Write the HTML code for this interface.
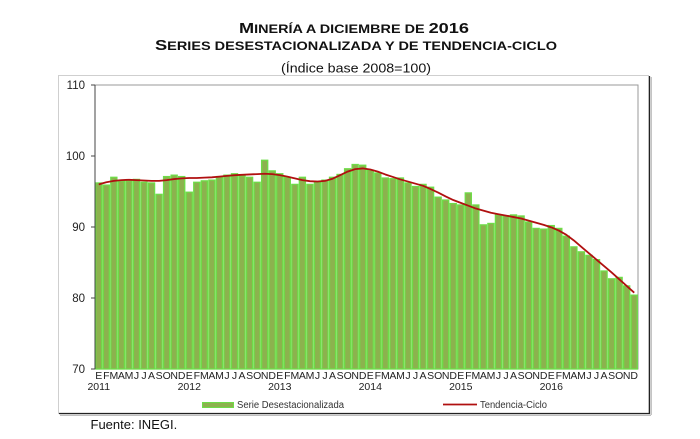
<!DOCTYPE html>
<html><head><meta charset="utf-8"><style>
html,body{margin:0;padding:0;background:#fff;}
svg{display:block;}
text{font-family:"Liberation Sans",Arial,sans-serif;}
</style></head><body>
<svg width="700" height="439" viewBox="0 0 700 439" xmlns="http://www.w3.org/2000/svg">
<rect width="700" height="439" fill="#fff"/>
<!-- titles -->
<text x="239" y="33" font-weight="bold" fill="#111" textLength="230" lengthAdjust="spacingAndGlyphs"><tspan font-size="14.5">M</tspan><tspan font-size="11.5">INERÍA A DICIEMBRE DE </tspan><tspan font-size="14.5">2016</tspan></text>
<text x="155" y="50" font-weight="bold" fill="#111" textLength="402" lengthAdjust="spacingAndGlyphs"><tspan font-size="14.5">S</tspan><tspan font-size="11.5">ERIES DESESTACIONALIZADA Y DE TENDENCIA-CICLO</tspan></text>
<text x="281" y="72.5" font-size="13" fill="#111" textLength="150" lengthAdjust="spacingAndGlyphs">(Índice base 2008=100)</text>
<!-- outer frame -->
<rect x="58.5" y="75.5" width="590" height="338" fill="none" stroke="#cfcfcf" stroke-width="1"/>
<line x1="59" y1="413.5" x2="650" y2="413.5" stroke="#222" stroke-width="1.2"/>
<line x1="649.5" y1="76" x2="649.5" y2="414" stroke="#222" stroke-width="1.2"/>
<line x1="60" y1="415.2" x2="651" y2="415.2" stroke="#aaa" stroke-width="1"/>
<line x1="651.2" y1="77" x2="651.2" y2="415" stroke="#aaa" stroke-width="1"/>
<!-- plot box -->
<rect x="95" y="85" width="543" height="284" fill="#fff" stroke="#999" stroke-width="1"/>
<!-- bars -->
<g fill="#8cb24e" stroke="#6edc48" stroke-width="1.3">
<rect x="95.7" y="182.98" width="6.1" height="186.02"/>
<rect x="103.24" y="185.11" width="6.1" height="183.89"/>
<rect x="110.78" y="177.3" width="6.1" height="191.7"/>
<rect x="118.33" y="180.85" width="6.1" height="188.15"/>
<rect x="125.87" y="180.85" width="6.1" height="188.15"/>
<rect x="133.41" y="179.43" width="6.1" height="189.57"/>
<rect x="140.95" y="182.27" width="6.1" height="186.73"/>
<rect x="148.49" y="182.98" width="6.1" height="186.02"/>
<rect x="156.03" y="194.34" width="6.1" height="174.66"/>
<rect x="163.58" y="176.59" width="6.1" height="192.41"/>
<rect x="171.12" y="175.17" width="6.1" height="193.83"/>
<rect x="178.66" y="176.59" width="6.1" height="192.41"/>
<rect x="186.2" y="192.21" width="6.1" height="176.79"/>
<rect x="193.74" y="182.27" width="6.1" height="186.73"/>
<rect x="201.28" y="180.85" width="6.1" height="188.15"/>
<rect x="208.83" y="180.14" width="6.1" height="188.86"/>
<rect x="216.37" y="176.59" width="6.1" height="192.41"/>
<rect x="223.91" y="175.17" width="6.1" height="193.83"/>
<rect x="231.45" y="173.75" width="6.1" height="195.25"/>
<rect x="238.99" y="175.88" width="6.1" height="193.12"/>
<rect x="246.53" y="177.3" width="6.1" height="191.7"/>
<rect x="254.08" y="182.27" width="6.1" height="186.73"/>
<rect x="261.62" y="160.26" width="6.1" height="208.74"/>
<rect x="269.16" y="170.91" width="6.1" height="198.09"/>
<rect x="276.7" y="173.75" width="6.1" height="195.25"/>
<rect x="284.24" y="177.3" width="6.1" height="191.7"/>
<rect x="291.78" y="184.4" width="6.1" height="184.6"/>
<rect x="299.33" y="177.3" width="6.1" height="191.7"/>
<rect x="306.87" y="184.4" width="6.1" height="184.6"/>
<rect x="314.41" y="182.27" width="6.1" height="186.73"/>
<rect x="321.95" y="180.14" width="6.1" height="188.86"/>
<rect x="329.49" y="177.3" width="6.1" height="191.7"/>
<rect x="337.03" y="174.46" width="6.1" height="194.54"/>
<rect x="344.58" y="168.78" width="6.1" height="200.22"/>
<rect x="352.12" y="164.52" width="6.1" height="204.48"/>
<rect x="359.66" y="165.23" width="6.1" height="203.77"/>
<rect x="367.2" y="170.2" width="6.1" height="198.8"/>
<rect x="374.74" y="173.04" width="6.1" height="195.96"/>
<rect x="382.28" y="178.01" width="6.1" height="190.99"/>
<rect x="389.83" y="178.72" width="6.1" height="190.28"/>
<rect x="397.37" y="178.01" width="6.1" height="190.99"/>
<rect x="404.91" y="182.98" width="6.1" height="186.02"/>
<rect x="412.45" y="186.53" width="6.1" height="182.47"/>
<rect x="419.99" y="184.4" width="6.1" height="184.6"/>
<rect x="427.53" y="187.24" width="6.1" height="181.76"/>
<rect x="435.08" y="197.18" width="6.1" height="171.82"/>
<rect x="442.62" y="200.02" width="6.1" height="168.98"/>
<rect x="450.16" y="203.57" width="6.1" height="165.43"/>
<rect x="457.7" y="204.99" width="6.1" height="164.01"/>
<rect x="465.24" y="192.92" width="6.1" height="176.08"/>
<rect x="472.78" y="204.99" width="6.1" height="164.01"/>
<rect x="480.33" y="224.87" width="6.1" height="144.13"/>
<rect x="487.87" y="223.45" width="6.1" height="145.55"/>
<rect x="495.41" y="214.93" width="6.1" height="154.07"/>
<rect x="502.95" y="215.64" width="6.1" height="153.36"/>
<rect x="510.49" y="214.93" width="6.1" height="154.07"/>
<rect x="518.03" y="216.0" width="6.1" height="153.0"/>
<rect x="525.58" y="222.03" width="6.1" height="146.97"/>
<rect x="533.12" y="228.42" width="6.1" height="140.58"/>
<rect x="540.66" y="229.13" width="6.1" height="139.87"/>
<rect x="548.2" y="225.58" width="6.1" height="143.42"/>
<rect x="555.74" y="228.42" width="6.1" height="140.58"/>
<rect x="563.28" y="236.23" width="6.1" height="132.77"/>
<rect x="570.83" y="246.88" width="6.1" height="122.12"/>
<rect x="578.37" y="251.85" width="6.1" height="117.15"/>
<rect x="585.91" y="255.4" width="6.1" height="113.6"/>
<rect x="593.45" y="259.66" width="6.1" height="109.34"/>
<rect x="600.99" y="271.02" width="6.1" height="97.98"/>
<rect x="608.53" y="278.83" width="6.1" height="90.17"/>
<rect x="616.08" y="277.41" width="6.1" height="91.59"/>
<rect x="623.62" y="285.93" width="6.1" height="83.07"/>
<rect x="631.16" y="295.16" width="6.1" height="73.84"/>
</g>
<!-- trend -->
<polyline fill="none" stroke="#b01010" stroke-width="1.8" stroke-linejoin="round" points="98.77,184.4 106.31,182.27 113.85,180.85 121.4,180.14 128.94,179.79 136.48,180.14 144.02,180.5 151.56,180.85 159.1,180.85 166.65,180.14 174.19,179.07 181.73,178.36 189.27,178.01 196.81,178.01 204.35,177.65 211.9,177.3 219.44,176.59 226.98,175.88 234.52,175.17 242.06,174.81 249.6,174.46 257.15,174.1 264.69,173.75 272.23,174.1 279.77,175.17 287.31,176.59 294.85,178.36 302.4,180.14 309.94,181.2 317.48,181.56 325.02,180.85 332.56,178.72 340.1,175.17 347.65,171.62 355.19,169.13 362.73,168.42 370.27,169.49 377.81,171.62 385.35,174.46 392.9,176.94 400.44,179.43 407.98,181.56 415.52,183.69 423.06,185.82 430.6,189.01 438.15,192.56 445.69,196.47 453.23,200.02 460.77,202.86 468.31,205.7 475.85,208.54 483.4,210.67 490.94,212.8 498.48,214.22 506.02,215.64 513.56,217.06 521.1,218.48 528.65,220.61 536.19,222.74 543.73,224.87 551.27,227.35 558.81,230.55 566.35,234.81 573.9,240.49 581.44,246.88 588.98,253.27 596.52,259.66 604.06,266.05 611.6,272.44 619.15,279.19 626.69,285.93 634.23,292.68"/>
<!-- axes -->
<line x1="95" y1="85" x2="95" y2="369" stroke="#444" stroke-width="1"/>
<g stroke="#444" stroke-width="1">
<line x1="91" y1="85" x2="95" y2="85"/>
<line x1="91" y1="156" x2="95" y2="156"/>
<line x1="91" y1="227" x2="95" y2="227"/>
<line x1="91" y1="298" x2="95" y2="298"/>
<line x1="91" y1="369" x2="95" y2="369"/>
</g>
<g font-size="11.5" fill="#222" text-anchor="end">
<text x="85" y="89">110</text>
<text x="85" y="160">100</text>
<text x="85" y="231">90</text>
<text x="85" y="302">80</text>
<text x="85" y="373">70</text>
</g>
<!-- month labels -->
<g font-size="10.5" fill="#222" text-anchor="middle">
<text x="98.77" y="379">E</text><text x="106.31" y="379">F</text><text x="113.85" y="379">M</text><text x="121.4" y="379">A</text><text x="128.94" y="379">M</text><text x="136.48" y="379">J</text><text x="144.02" y="379">J</text><text x="151.56" y="379">A</text><text x="159.1" y="379">S</text><text x="166.65" y="379">O</text><text x="174.19" y="379">N</text><text x="181.73" y="379">D</text>
<text x="189.27" y="379">E</text><text x="196.81" y="379">F</text><text x="204.35" y="379">M</text><text x="211.9" y="379">A</text><text x="219.44" y="379">M</text><text x="226.98" y="379">J</text><text x="234.52" y="379">J</text><text x="242.06" y="379">A</text><text x="249.6" y="379">S</text><text x="257.15" y="379">O</text><text x="264.69" y="379">N</text><text x="272.23" y="379">D</text>
<text x="279.77" y="379">E</text><text x="287.31" y="379">F</text><text x="294.85" y="379">M</text><text x="302.4" y="379">A</text><text x="309.94" y="379">M</text><text x="317.48" y="379">J</text><text x="325.02" y="379">J</text><text x="332.56" y="379">A</text><text x="340.1" y="379">S</text><text x="347.65" y="379">O</text><text x="355.19" y="379">N</text><text x="362.73" y="379">D</text>
<text x="370.27" y="379">E</text><text x="377.81" y="379">F</text><text x="385.35" y="379">M</text><text x="392.9" y="379">A</text><text x="400.44" y="379">M</text><text x="407.98" y="379">J</text><text x="415.52" y="379">J</text><text x="423.06" y="379">A</text><text x="430.6" y="379">S</text><text x="438.15" y="379">O</text><text x="445.69" y="379">N</text><text x="453.23" y="379">D</text>
<text x="460.77" y="379">E</text><text x="468.31" y="379">F</text><text x="475.85" y="379">M</text><text x="483.4" y="379">A</text><text x="490.94" y="379">M</text><text x="498.48" y="379">J</text><text x="506.02" y="379">J</text><text x="513.56" y="379">A</text><text x="521.1" y="379">S</text><text x="528.65" y="379">O</text><text x="536.19" y="379">N</text><text x="543.73" y="379">D</text>
<text x="551.27" y="379">E</text><text x="558.81" y="379">F</text><text x="566.35" y="379">M</text><text x="573.9" y="379">A</text><text x="581.44" y="379">M</text><text x="588.98" y="379">J</text><text x="596.52" y="379">J</text><text x="604.06" y="379">A</text><text x="611.6" y="379">S</text><text x="619.15" y="379">O</text><text x="626.69" y="379">N</text><text x="634.23" y="379">D</text>
</g>
<g font-size="10.5" fill="#222" text-anchor="middle">
<text x="98.77" y="390">2011</text>
<text x="189.27" y="390">2012</text>
<text x="279.77" y="390">2013</text>
<text x="370.27" y="390">2014</text>
<text x="460.77" y="390">2015</text>
<text x="551.27" y="390">2016</text>
</g>
<!-- legend -->
<rect x="202.5" y="402.5" width="31" height="5" fill="#8cb24e" stroke="#6edc48" stroke-width="1"/>
<text x="237" y="408" font-size="10" fill="#333" textLength="107" lengthAdjust="spacingAndGlyphs">Serie Desestacionalizada</text>
<line x1="443" y1="404.5" x2="477" y2="404.5" stroke="#b01010" stroke-width="1.8"/>
<text x="480" y="408" font-size="10" fill="#333" textLength="67" lengthAdjust="spacingAndGlyphs">Tendencia-Ciclo</text>
<!-- source -->
<text x="90.5" y="429" font-size="13" fill="#111">Fuente: INEGI.</text>
</svg>
</body></html>
